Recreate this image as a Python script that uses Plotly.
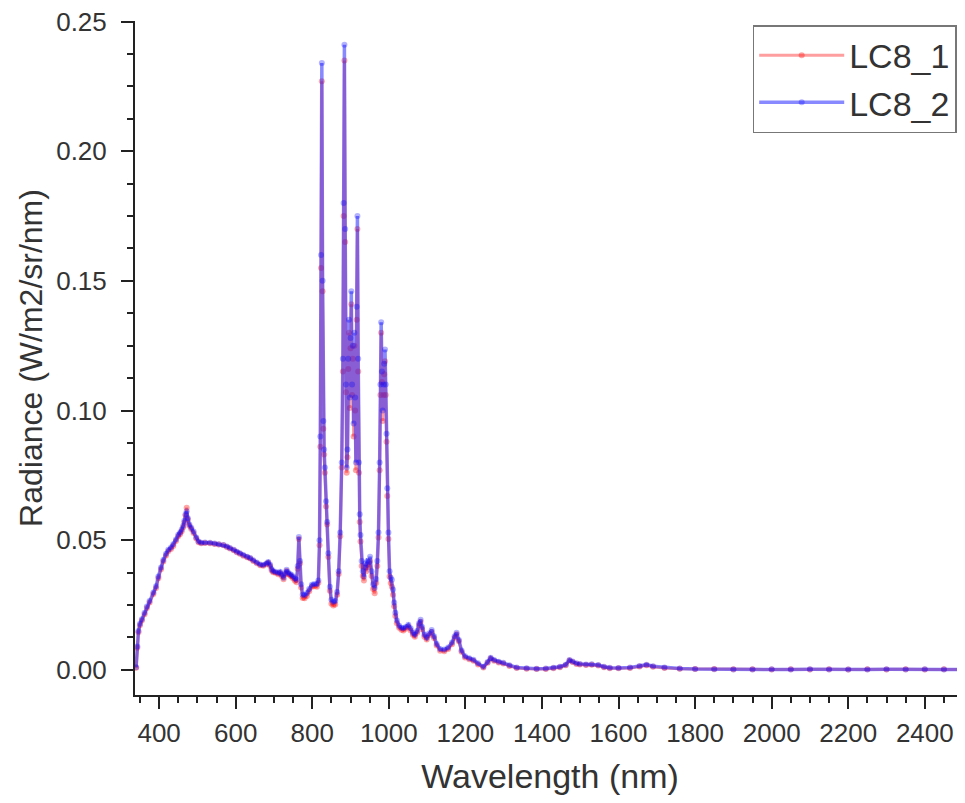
import plotly.graph_objects as go

# Wavelength samples (nm)
wavelength = [
    340, 343, 346, 350, 355, 362, 368, 375, 385, 392, 398, 405, 411, 418, 424, 431, 437, 444, 450, 455,
    459, 463, 466, 469, 472, 475, 479, 484, 490, 497, 503, 510, 520, 533, 545, 556, 568, 577, 585, 595,
    603, 611, 620, 630, 638, 646, 655, 664, 672, 680, 685, 690, 694, 698, 704, 711, 716, 720, 725, 729,
    733, 737, 742, 746, 750, 755, 759, 762, 765, 768, 771, 775, 780, 786, 792, 799, 805, 812, 816, 819,
    821, 823, 825, 827, 829, 831, 833, 836, 839, 842, 846, 850, 855, 860, 865, 869, 873, 877, 880, 882,
    884, 886, 888, 890, 892, 894, 896, 898, 900, 902, 904, 906, 908, 910, 912, 914, 916, 918, 920, 922,
    924, 926, 929, 932, 935, 938, 941, 944, 948, 951, 955, 959, 963, 967, 970, 973, 976, 978, 980, 982,
    984, 986, 988, 990, 992, 994, 996, 999, 1002, 1005, 1008, 1011, 1014, 1017, 1021, 1027, 1033, 1038, 1044, 1051,
    1057, 1063, 1068, 1074, 1079, 1083, 1087, 1093, 1099, 1105, 1112, 1118, 1125, 1134, 1145, 1155, 1165, 1172, 1177, 1183,
    1190, 1199, 1210, 1221, 1233, 1247, 1258, 1266, 1275, 1287, 1299, 1315, 1334, 1360, 1386, 1410, 1430, 1447, 1462, 1472,
    1480, 1490, 1499, 1515, 1530, 1547, 1562, 1577, 1600, 1630, 1655, 1673, 1690, 1720, 1760, 1800, 1850, 1900, 1950, 2000,
    2050, 2100, 2150, 2200, 2250, 2300, 2350, 2400, 2450, 2500,
]

# Radiance (W/m2/sr/nm), series LC8_2 (blue)
lc8_2 = [
    0.0010, 0.0090, 0.0150, 0.0178, 0.0195, 0.0220, 0.0244, 0.0265, 0.0298, 0.0322, 0.0360, 0.0395, 0.0424, 0.0448, 0.0463, 0.0472, 0.0484, 0.0503, 0.0521, 0.0530,
    0.0541, 0.0556, 0.0575, 0.0600, 0.0612, 0.0585, 0.0560, 0.0548, 0.0533, 0.0510, 0.0495, 0.0490, 0.0491, 0.0490, 0.0487, 0.0484, 0.0481, 0.0476, 0.0470, 0.0463,
    0.0455, 0.0450, 0.0443, 0.0436, 0.0431, 0.0423, 0.0414, 0.0406, 0.0404, 0.0410, 0.0416, 0.0405, 0.0388, 0.0380, 0.0378, 0.0373, 0.0378, 0.0368, 0.0355, 0.0372,
    0.0386, 0.0375, 0.0370, 0.0366, 0.0360, 0.0352, 0.0347, 0.0400, 0.0512, 0.0420, 0.0330, 0.0290, 0.0288, 0.0296, 0.0312, 0.0328, 0.0331, 0.0330, 0.0345, 0.0500,
    0.0900, 0.1600, 0.2340, 0.1500, 0.0960, 0.0850, 0.0780, 0.0650, 0.0570, 0.0450, 0.0320, 0.0270, 0.0262, 0.0265, 0.0300, 0.0380, 0.0530, 0.0800, 0.1200, 0.1800,
    0.2410, 0.1700, 0.1100, 0.0780, 0.0850, 0.1200, 0.1350, 0.1050, 0.1280, 0.1460, 0.1100, 0.1250, 0.0950, 0.1300, 0.1050, 0.0800, 0.1400, 0.1750, 0.1200, 0.0800,
    0.0600, 0.0520, 0.0420, 0.0380, 0.0360, 0.0410, 0.0395, 0.0420, 0.0415, 0.0436, 0.0380, 0.0330, 0.0316, 0.0350, 0.0420, 0.0530, 0.0800, 0.1100, 0.1340, 0.1150,
    0.1000, 0.1100, 0.1180, 0.1235, 0.1100, 0.0910, 0.0700, 0.0530, 0.0380, 0.0355, 0.0347, 0.0310, 0.0260, 0.0220, 0.0190, 0.0170, 0.0162, 0.0160, 0.0165, 0.0174,
    0.0160, 0.0142, 0.0135, 0.0150, 0.0180, 0.0193, 0.0165, 0.0135, 0.0124, 0.0140, 0.0154, 0.0130, 0.0100, 0.0080, 0.0078, 0.0086, 0.0105, 0.0130, 0.0143, 0.0115,
    0.0075, 0.0052, 0.0045, 0.0039, 0.0025, 0.0012, 0.0030, 0.0047, 0.0038, 0.0031, 0.0027, 0.0018, 0.0009, 0.0006, 0.0004, 0.0005, 0.0008, 0.0012, 0.0020, 0.0038,
    0.0032, 0.0025, 0.0023, 0.0021, 0.0022, 0.0019, 0.0012, 0.0008, 0.0007, 0.0009, 0.0015, 0.0020, 0.0014, 0.0009, 0.0005, 0.0003, 0.0002, 0.0001, 0.0001, 0.0002,
    0.0001, 0.0002, 0.0001, 0.0001, 0.0001, 0.0002, 0.0001, 0.0002, 0.0001, 0.0002,
]

# Radiance (W/m2/sr/nm), series LC8_1 (red)
lc8_1 = [
    0.0008, 0.0085, 0.0145, 0.0172, 0.0190, 0.0214, 0.0238, 0.0260, 0.0292, 0.0316, 0.0353, 0.0388, 0.0418, 0.0441, 0.0457, 0.0466, 0.0478, 0.0497, 0.0515, 0.0524,
    0.0534, 0.0550, 0.0568, 0.0595, 0.0625, 0.0580, 0.0556, 0.0543, 0.0528, 0.0506, 0.0492, 0.0488, 0.0489, 0.0488, 0.0485, 0.0483, 0.0480, 0.0474, 0.0468, 0.0461,
    0.0453, 0.0448, 0.0440, 0.0434, 0.0429, 0.0420, 0.0411, 0.0403, 0.0401, 0.0407, 0.0413, 0.0400, 0.0383, 0.0376, 0.0374, 0.0369, 0.0373, 0.0362, 0.0349, 0.0368,
    0.0381, 0.0370, 0.0364, 0.0360, 0.0352, 0.0344, 0.0338, 0.0390, 0.0505, 0.0410, 0.0318, 0.0277, 0.0276, 0.0285, 0.0303, 0.0320, 0.0322, 0.0320, 0.0336, 0.0480,
    0.0860, 0.1550, 0.2270, 0.1460, 0.0930, 0.0830, 0.0760, 0.0630, 0.0560, 0.0435, 0.0305, 0.0255, 0.0248, 0.0252, 0.0290, 0.0370, 0.0515, 0.0780, 0.1150, 0.1750,
    0.2350, 0.1650, 0.1070, 0.0760, 0.0820, 0.1160, 0.1300, 0.1010, 0.1240, 0.1410, 0.1060, 0.1200, 0.0900, 0.1250, 0.1000, 0.0770, 0.1350, 0.1700, 0.1150, 0.0760,
    0.0570, 0.0495, 0.0400, 0.0362, 0.0345, 0.0395, 0.0380, 0.0405, 0.0398, 0.0420, 0.0362, 0.0312, 0.0295, 0.0335, 0.0400, 0.0510, 0.0770, 0.1060, 0.1300, 0.1110,
    0.0960, 0.1060, 0.1140, 0.1190, 0.1060, 0.0880, 0.0670, 0.0505, 0.0360, 0.0335, 0.0320, 0.0290, 0.0245, 0.0208, 0.0180, 0.0162, 0.0155, 0.0152, 0.0158, 0.0166,
    0.0152, 0.0135, 0.0128, 0.0143, 0.0172, 0.0185, 0.0157, 0.0128, 0.0117, 0.0133, 0.0146, 0.0123, 0.0094, 0.0074, 0.0072, 0.0080, 0.0099, 0.0124, 0.0137, 0.0110,
    0.0070, 0.0048, 0.0041, 0.0035, 0.0021, 0.0009, 0.0027, 0.0044, 0.0035, 0.0028, 0.0024, 0.0015, 0.0007, 0.0004, 0.0003, 0.0003, 0.0006, 0.0010, 0.0018, 0.0036,
    0.0030, 0.0023, 0.0021, 0.0019, 0.0020, 0.0017, 0.0010, 0.0006, 0.0006, 0.0007, 0.0013, 0.0018, 0.0012, 0.0007, 0.0004, 0.0003, 0.0003, 0.0002, 0.0002, 0.0001,
    0.0002, 0.0001, 0.0002, 0.0001, 0.0002, 0.0001, 0.0002, 0.0001, 0.0002, 0.0001,
]

x_ticks = [400, 600, 800, 1000, 1200, 1400, 1600, 1800, 2000, 2200, 2400]
y_ticks = [0.00, 0.05, 0.10, 0.15, 0.20, 0.25]

FONT = "Liberation Sans, Arial, sans-serif"

fig = go.Figure()
fig.add_trace(go.Scatter(
    x=wavelength, y=lc8_1, name="LC8_1", mode="lines+markers",
    line=dict(color="rgba(255,40,40,0.45)", width=3),
    marker=dict(color="rgba(255,0,0,0.35)", size=6),
))
fig.add_trace(go.Scatter(
    x=wavelength, y=lc8_2, name="LC8_2", mode="lines+markers",
    line=dict(color="rgba(40,40,255,0.55)", width=3.5),
    marker=dict(color="rgba(0,0,255,0.3)", size=6),
))

axis_common = dict(
    showline=True, linecolor="#222", linewidth=2, showgrid=False, zeroline=False,
    ticks="outside", ticklen=12, tickwidth=2, tickcolor="#222",
    tickfont=dict(family=FONT, size=26, color="#333"),
    mirror=False, ticklabeloverflow="allow",
)

# the page adds an 8px body margin, so the figure is sized/offset to compensate
fig.update_layout(
    width=957, height=795,
    paper_bgcolor="white", plot_bgcolor="white",
    margin=dict(l=127, r=0, t=13, b=108),
    font=dict(family=FONT, color="#333"),
    xaxis=dict(
        **axis_common,
        range=[337, 2505], tickvals=x_ticks, ticktext=[str(v) for v in x_ticks],
        minor=dict(ticks="outside", ticklen=6, tickwidth=1.5, tickcolor="#222", dtick=50, tick0=0),
        title=dict(text="Wavelength (nm)", font=dict(family=FONT, size=34, color="#333"), standoff=17),
        ticklabelstandoff=2,
    ),
    yaxis=dict(
        **axis_common,
        range=[-0.0097, 0.2502], tickvals=y_ticks, ticktext=[f"{v:.2f}" for v in y_ticks],
        minor=dict(ticks="outside", ticklen=6, tickwidth=1.5, tickcolor="#222", dtick=0.0125, tick0=0),
        title=dict(text="Radiance (W/m2/sr/nm)", font=dict(family=FONT, size=32, color="#333"), standoff=4),
        ticklabelstandoff=9,
    ),
    legend=dict(
        x=0.99, y=0.994, xanchor="right", yanchor="top",
        bordercolor="#777", borderwidth=1.5, bgcolor="white",
        font=dict(family=FONT, size=34, color="#333"),
        itemwidth=85, tracegroupgap=0,
    ),
    showlegend=True,
)

fig.write_html("out.html")
